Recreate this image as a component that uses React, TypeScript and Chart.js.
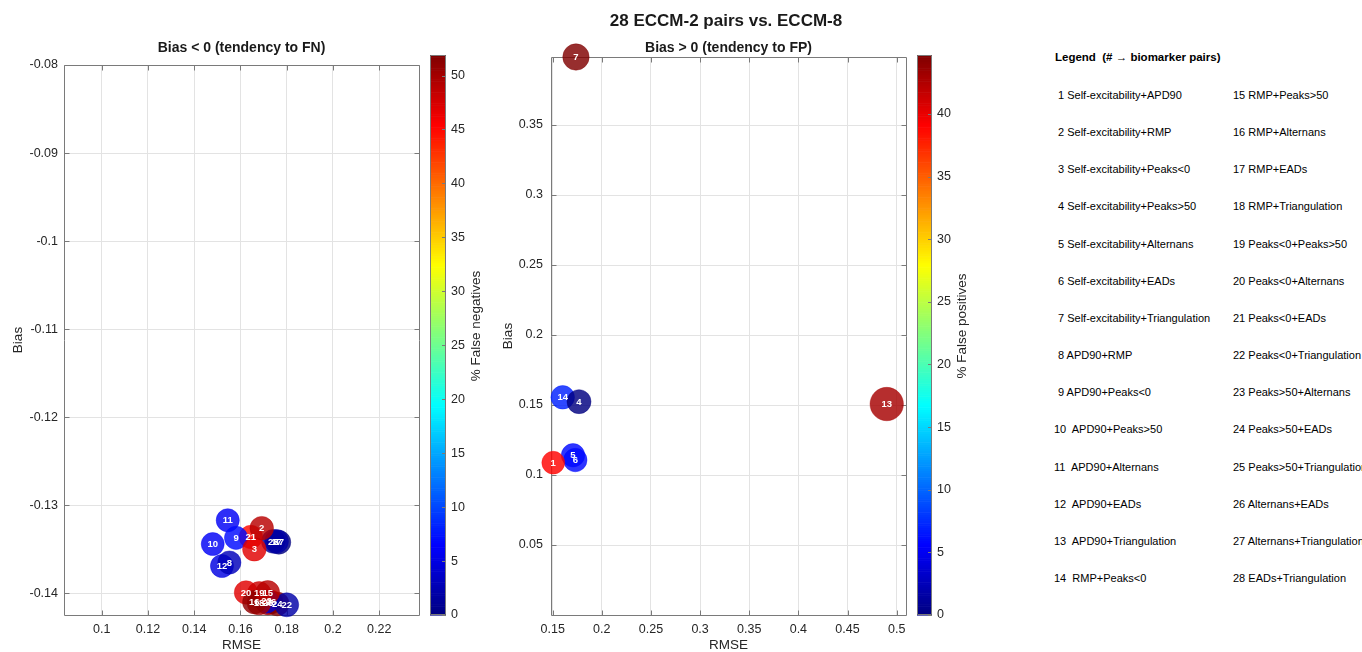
import React, { useEffect, useRef } from "react";
import { Chart, registerables } from "chart.js";

Chart.register(...registerables);

const FONT = "'Liberation Sans', Arial, Helvetica, sans-serif";
const TXT = "#262626";

// ---------- data ----------
const pairNames = [
  "Self-excitability+APD90", "Self-excitability+RMP", "Self-excitability+Peaks<0",
  "Self-excitability+Peaks>50", "Self-excitability+Alternans", "Self-excitability+EADs",
  "Self-excitability+Triangulation", "APD90+RMP", "APD90+Peaks<0", "APD90+Peaks>50",
  "APD90+Alternans", "APD90+EADs", "APD90+Triangulation", "RMP+Peaks<0", "RMP+Peaks>50",
  "RMP+Alternans", "RMP+EADs", "RMP+Triangulation", "Peaks<0+Peaks>50", "Peaks<0+Alternans",
  "Peaks<0+EADs", "Peaks<0+Triangulation", "Peaks>50+Alternans", "Peaks>50+EADs",
  "Peaks>50+Triangulation", "Alternans+EADs", "Alternans+Triangulation", "EADs+Triangulation",
];

// Bias < 0 (false negatives)
const fnIds = [2, 3, 8, 9, 10, 11, 12, 15, 16, 17, 18, 19, 20, 21, 22, 23, 24, 25, 26, 27, 28];
const fnRmse = [0.1692, 0.1660, 0.1552, 0.1581, 0.1480, 0.1545, 0.1520, 0.1718, 0.1660, 0.1756, 0.1680,
  0.1681, 0.1624, 0.1645, 0.1800, 0.1713, 0.1759, 0.1719, 0.1732, 0.1766, 0.1742];
const fnBias = [-0.1326, -0.1350, -0.1365, -0.1337, -0.1344, -0.1317, -0.1369, -0.1399, -0.1410, -0.1341,
  -0.1411, -0.1400, -0.1399, -0.1336, -0.1413, -0.1409, -0.1412, -0.1411, -0.1410, -0.1342, -0.1341];
const fnPct = [49, 47, 3, 7, 6, 6, 5, 49, 51, 2, 50, 48, 47, 45, 2, 4, 51.9, 50, 49, 0, 1];

// Bias > 0 (false positives)
const fpIds = [1, 4, 5, 6, 7, 13, 14];
const fpRmse = [0.1506, 0.1768, 0.1707, 0.1730, 0.1737, 0.4899, 0.1602];
const fpBias = [0.1088, 0.1524, 0.1141, 0.1107, 0.3986, 0.1507, 0.1555];
const fpPct = [39, 0, 6, 6, 44.7, 43, 7];

// tick labels
const fnXTicks = [0.1, 0.12, 0.14, 0.16, 0.18, 0.2, 0.22];
const fnYTicks = [-0.14, -0.13, -0.12, -0.11, -0.1, -0.09, -0.08];
const fpXTicks = [0.15, 0.2, 0.25, 0.3, 0.35, 0.4, 0.45, 0.5];
const fpYTicks = [0.05, 0.1, 0.15, 0.2, 0.25, 0.3, 0.35];
const fnCbTicks = [0, 5, 10, 15, 20, 25, 30, 35, 40, 45, 50];
const fpCbTicks = [0, 5, 10, 15, 20, 25, 30, 35, 40];

// ---------- helpers ----------
function jet(t: number): [number, number, number] {
  const c = (v: number) => Math.max(0, Math.min(1, v));
  return [c(1.5 - Math.abs(4 * t - 3)), c(1.5 - Math.abs(4 * t - 2)), c(1.5 - Math.abs(4 * t - 1))];
}
function rgba(t: number, a: number) {
  const [r, g, b] = jet(t);
  return `rgba(${Math.round(r * 255)},${Math.round(g * 255)},${Math.round(b * 255)},${a})`;
}
const fmt = (v: number) => String(+v.toFixed(4));

interface Cfg {
  ids: number[]; rmse: number[]; bias: number[]; pct: number[];
  xMin: number; xMax: number; yMin: number; yMax: number;
  xTicks: number[]; yTicks: number[]; cbTicks: number[];
  padTop: number; padRight: number; yAxisWidth: number; yTickPad: number;
  cbX0: number; cbX1: number; cbTop: number; cbBottom: number;
  cbLabel: string; cbLabelX: number; cbLabelY: number; title: string;
}

function makeConfig(c: Cfg): any {
  const cMin = Math.min(...c.pct);
  const cMax = Math.max(...c.pct);
  const datasets = c.ids.map((id, i) => {
    const t = (c.pct[i] - cMin) / (cMax - cMin);
    return {
      label: String(id),
      data: [{ x: c.rmse[i], y: c.bias[i] }],
      backgroundColor: rgba(t, 0.82),
      borderColor: rgba(t, 0.82),
      borderWidth: 0.5,
      pointRadius: 8.6 + 15 * c.rmse[i] + 5 * Math.abs(c.bias[i]),
      clip: false,
    };
  });

  const framePlugin = {
    id: "frame",
    beforeDatasetsDraw(chart: any) {
      const { ctx, chartArea: a, scales } = chart;
      const x = scales.x, y = scales.y;
      ctx.save();
      ctx.strokeStyle = "#7a7a7a";
      ctx.lineWidth = 1;
      const L = Math.round(a.left) + 0.5, R = Math.round(a.right) + 0.5;
      const T = Math.round(a.top) + 0.5, B = Math.round(a.bottom) + 0.5;
      ctx.beginPath();
      ctx.rect(L, T, R - L, B - T);
      const tl = 5;
      x.ticks.forEach((tk: any) => {
        const px = Math.round(x.getPixelForValue(tk.value)) + 0.5;
        ctx.moveTo(px, B); ctx.lineTo(px, B - tl);
        ctx.moveTo(px, T); ctx.lineTo(px, T + tl);
      });
      y.ticks.forEach((tk: any) => {
        const py = Math.round(y.getPixelForValue(tk.value)) + 0.5;
        ctx.moveTo(L, py); ctx.lineTo(L + tl, py);
        ctx.moveTo(R, py); ctx.lineTo(R - tl, py);
      });
      ctx.stroke();
      ctx.restore();
    },
  };

  const labelPlugin = {
    id: "ptlabels",
    afterDatasetsDraw(chart: any) {
      const ctx = chart.ctx;
      ctx.save();
      ctx.fillStyle = "#ffffff";
      ctx.font = `bold 9.5px ${FONT}`;
      ctx.textAlign = "center";
      ctx.textBaseline = "middle";
      chart.data.datasets.forEach((ds: any, i: number) => {
        const el = chart.getDatasetMeta(i).data[0];
        if (el) ctx.fillText(ds.label, el.x, el.y + 0.5);
      });
      ctx.restore();
    },
  };

  const decoPlugin = {
    id: "deco",
    afterDraw(chart: any) {
      const { ctx, chartArea: a } = chart;
      ctx.save();
      // subplot title
      ctx.fillStyle = "#1a1a1a";
      ctx.font = `bold 14px ${FONT}`;
      ctx.textAlign = "center";
      ctx.textBaseline = "middle";
      ctx.fillText(c.title, (a.left + a.right) / 2, 48);
      // colorbar
      const n = 256;
      const h = c.cbBottom - c.cbTop;
      for (let i = 0; i < n; i++) {
        const y0 = c.cbBottom - ((i + 1) / n) * h;
        ctx.fillStyle = rgba((i + 0.5) / n, 1);
        ctx.fillRect(c.cbX0, y0, c.cbX1 - c.cbX0, h / n + 0.6);
      }
      ctx.strokeStyle = "#7a7a7a";
      ctx.lineWidth = 1;
      ctx.beginPath();
      ctx.rect(c.cbX0 + 0.5, c.cbTop + 0.5, c.cbX1 - c.cbX0 - 1, h - 1);
      const vpx = (v: number) => c.cbBottom - ((v - cMin) / (cMax - cMin)) * h;
      c.cbTicks.forEach((v) => {
        const py = Math.round(vpx(v)) + 0.5;
        ctx.moveTo(c.cbX1 - 4, py); ctx.lineTo(c.cbX1, py);
      });
      ctx.stroke();
      ctx.fillStyle = TXT;
      ctx.font = `12.5px ${FONT}`;
      ctx.textAlign = "left";
      ctx.textBaseline = "middle";
      c.cbTicks.forEach((v) => ctx.fillText(String(v), c.cbX1 + 5, vpx(v)));
      // colorbar label
      ctx.translate(c.cbLabelX, c.cbLabelY);
      ctx.rotate(-Math.PI / 2);
      ctx.font = `13.5px ${FONT}`;
      ctx.textAlign = "center";
      ctx.fillText(c.cbLabel, 0, 0);
      ctx.restore();
    },
  };

  const tickFont = { family: FONT, size: 12.5 };
  const titleFont = { family: FONT, size: 13.5, lineHeight: 1 };

  return {
    type: "scatter",
    data: { datasets },
    options: {
      animation: false,
      responsive: false,
      maintainAspectRatio: false,
      events: [],
      layout: { padding: { top: c.padTop, right: c.padRight, left: 0, bottom: 0 } },
      plugins: { legend: { display: false }, tooltip: { enabled: false }, title: { display: false } },
      scales: {
        x: {
          type: "linear",
          min: c.xMin,
          max: c.xMax,
          afterBuildTicks: (s: any) => { s.ticks = c.xTicks.map((v) => ({ value: v })); },
          afterFit: (s: any) => { s.height = 37; },
          grid: { color: "#e3e3e3", drawTicks: false, lineWidth: 1 },
          border: { display: false },
          ticks: { padding: 7, color: TXT, font: tickFont, maxRotation: 0, autoSkip: false, callback: (v: any) => fmt(+v) },
          title: { display: true, text: "RMSE", color: TXT, font: titleFont, padding: { top: 0, bottom: 0 } },
        },
        y: {
          type: "linear",
          min: c.yMin,
          max: c.yMax,
          afterBuildTicks: (s: any) => { s.ticks = c.yTicks.map((v) => ({ value: v })); },
          afterFit: (s: any) => { s.width = c.yAxisWidth; },
          grid: { color: "#e3e3e3", drawTicks: false, lineWidth: 1 },
          border: { display: false },
          ticks: { padding: c.yTickPad, color: TXT, font: tickFont, autoSkip: false, callback: (v: any) => fmt(+v) },
          title: { display: true, text: "Bias", color: TXT, font: titleFont, padding: { top: 12, bottom: 0 } },
        },
      },
    },
    plugins: [framePlugin, labelPlugin, decoPlugin],
  };
}

export default function App() {
  const ref1 = useRef<HTMLCanvasElement>(null);
  const ref2 = useRef<HTMLCanvasElement>(null);

  useEffect(() => {
    const c1 = new Chart(ref1.current as HTMLCanvasElement, makeConfig({
      ids: fnIds, rmse: fnRmse, bias: fnBias, pct: fnPct,
      xMin: 0.0837, xMax: 0.2372, yMin: -0.14246, yMax: -0.08,
      xTicks: fnXTicks, yTicks: fnYTicks, cbTicks: fnCbTicks,
      padTop: 65, padRight: 81, yAxisWidth: 64, yTickPad: 6,
      cbX0: 430, cbX1: 446, cbTop: 55, cbBottom: 615,
      cbLabel: "% False negatives", cbLabelX: 476, cbLabelY: 326,
      title: "Bias < 0 (tendency to FN)",
    }));
    const c2 = new Chart(ref2.current as HTMLCanvasElement, makeConfig({
      ids: fpIds, rmse: fpRmse, bias: fpBias, pct: fpPct,
      xMin: 0.1483, xMax: 0.5095, yMin: 0, yMax: 0.3986,
      xTicks: fpXTicks, yTicks: fpYTicks, cbTicks: fpCbTicks,
      padTop: 57, padRight: 134, yAxisWidth: 61, yTickPad: 8,
      cbX0: 427, cbX1: 442, cbTop: 55, cbBottom: 615,
      cbLabel: "% False positives", cbLabelX: 472, cbLabelY: 326,
      title: "Bias > 0 (tendency to FP)",
    }));
    return () => { c1.destroy(); c2.destroy(); };
  }, []);

  const rowY = (i: number) => 95 + 37.15 * i;
  const legendText = { position: "absolute" as const, fontSize: 11, lineHeight: "14px", whiteSpace: "pre" as const, color: "#000" };

  return (
    <div style={{ position: "absolute", left: 0, top: 0, width: 1362, height: 652, overflow: "hidden", background: "#fff", fontFamily: FONT }}>
      <canvas ref={ref1} width={500} height={652} style={{ position: "absolute", left: 0, top: 0 }} />
      <canvas ref={ref2} width={550} height={652} style={{ position: "absolute", left: 490, top: 0 }} />
      <div style={{ position: "absolute", left: 726, top: 21, transform: "translate(-50%, -50%)", fontWeight: "bold", fontSize: 17, whiteSpace: "nowrap", color: "#1a1a1a", lineHeight: "20px" }}>
        28 ECCM-2 pairs vs. ECCM-8
      </div>
      <div style={{ ...legendText, left: 1055, top: 57 - 7, fontWeight: "bold", fontSize: 11.5 }}>{"Legend  (# \u2192 biomarker pairs)"}</div>
      {pairNames.map((name, i) => {
        const n = i + 1;
        const col = i < 14 ? 0 : 1;
        const row = i % 14;
        const left = col === 0 ? (n < 10 ? 1058 : 1054) : 1233;
        const text = col === 0 && n >= 10 ? `${n}  ${name}` : `${n} ${name}`;
        return (
          <div key={n} style={{ ...legendText, left, top: rowY(row) - 7 }}>{text}</div>
        );
      })}
    </div>
  );
}
